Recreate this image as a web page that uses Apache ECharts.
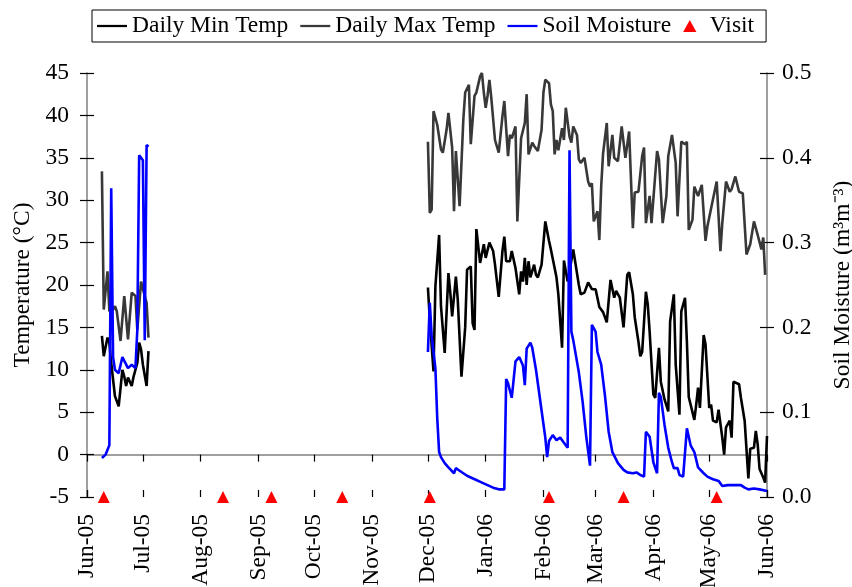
<!DOCTYPE html>
<html>
<head>
<meta charset="utf-8">
<script src="https://cdn.jsdelivr.net/npm/echarts@6.0.0/dist/echarts.min.js"></script>
<style>
html, body { margin: 0; padding: 0; background: #fff; }
#chart { width: 852px; height: 587px; }
</style>
</head>
<body>
<div id="chart"></div>
<script>
// Station record, June 2005 – June 2006: daily air temperature extremes (°C),
// volumetric soil moisture (m3 m-3) and field visit dates.

const minTempDates = [
  '2005-06-09','2005-06-10','2005-06-12','2005-06-13','2005-06-14','2005-06-16','2005-06-17','2005-06-18',
  '2005-06-20','2005-06-21','2005-06-22','2005-06-23','2005-06-25','2005-06-26','2005-06-28','2005-06-29',
  '2005-06-30','2005-07-01','2005-07-02','2005-07-03','2005-07-04',
  '2005-12-01','2005-12-02','2005-12-04','2005-12-05','2005-12-07','2005-12-08','2005-12-10','2005-12-12',
  '2005-12-13','2005-12-14','2005-12-16','2005-12-17','2005-12-19','2005-12-21','2005-12-22','2005-12-24',
  '2005-12-25','2005-12-26','2005-12-27','2005-12-29','2005-12-31','2006-01-01','2006-01-03','2006-01-05',
  '2006-01-06','2006-01-08','2006-01-10','2006-01-11','2006-01-12','2006-01-14','2006-01-15','2006-01-17',
  '2006-01-19','2006-01-20','2006-01-21','2006-01-22','2006-01-23','2006-01-24','2006-01-25','2006-01-27',
  '2006-01-28','2006-01-29','2006-01-31','2006-02-02','2006-02-04','2006-02-05','2006-02-06','2006-02-08',
  '2006-02-09','2006-02-11','2006-02-12','2006-02-14','2006-02-15','2006-02-17','2006-02-18','2006-02-20',
  '2006-02-21','2006-02-23','2006-02-25','2006-02-27','2006-03-01','2006-03-03','2006-03-05','2006-03-07',
  '2006-03-09','2006-03-11','2006-03-12','2006-03-14','2006-03-16','2006-03-18','2006-03-19','2006-03-21',
  '2006-03-22','2006-03-24','2006-03-25','2006-03-26','2006-03-28','2006-03-29','2006-03-30','2006-04-01',
  '2006-04-02','2006-04-04','2006-04-05','2006-04-07','2006-04-08','2006-04-09','2006-04-10','2006-04-12',
  '2006-04-13','2006-04-15','2006-04-16','2006-04-18','2006-04-19','2006-04-20','2006-04-23','2006-04-24',
  '2006-04-25','2006-04-26','2006-04-28','2006-04-29','2006-05-01','2006-05-02','2006-05-03','2006-05-05',
  '2006-05-06','2006-05-08','2006-05-09','2006-05-10','2006-05-12','2006-05-13','2006-05-14','2006-05-17',
  '2006-05-18','2006-05-20','2006-05-22','2006-05-23','2006-05-25','2006-05-26','2006-05-27','2006-05-28',
  '2006-05-30','2006-05-31','2006-06-01'
];
const minTempC = [
  14, 11.6, 13.8, 13.2, 10.8, 6.9, 6.9, 5.7,
  10, 9.2, 8.1, 9.1, 8.1, 9.2, 10.8, 13.2,
  12.4, 10.6, 10.8, 8.1, 12.2,
  19.7, 15.9, 9.8, 19.8, 25.9, 17.5, 12, 21.4,
  19.1, 16.3, 21, 18.3, 9.2, 15, 21.8, 22.2,
  15.5, 14.7, 26.6, 22.6, 24.8, 23.2, 25, 24,
  22.4, 18.6, 24, 25.7, 22.8, 22.8, 24, 22,
  18.9, 21.6, 20.4, 23.2, 20, 22.8, 20.9, 22.4,
  21.2, 20.9, 22.4, 27.5, 25.2, 24.2, 24.2, 20.9,
  18.9, 12.6, 22.9, 20.4, 21.6, 24.2, 22.8, 20,
  18.9, 19.1, 20.3, 19.5, 19.5, 17.4, 16.8, 15.6,
  20.6, 18.5, 19.3, 18.5, 15, 21.2, 21.5, 18.9,
  16.2, 13.3, 11.6, 12.1, 19.2, 17.7, 14.5, 7.1,
  6.7, 12.6, 8.6, 6.5, 6.7, 5.1, 15.7, 18.9,
  10.6, 4.7, 16.9, 18.5, 13.3, 6.8, 4.1, 5.9,
  7.9, 5.5, 14.1, 13, 5.5, 5.9, 4, 3.8,
  5.3, 2, 0, 3.2, 4, 2, 8.6, 8.3,
  6.7, 4, -2.8, 0.7, 0.8, 2.8, 1.2, -1.7,
  -2.7, -3.3, 2.2
];

const maxTempDates = [
  '2005-06-09','2005-06-10','2005-06-12','2005-06-13','2005-06-15','2005-06-16','2005-06-17','2005-06-19',
  '2005-06-21','2005-06-23','2005-06-25','2005-06-27','2005-06-28','2005-06-30','2005-07-02','2005-07-03',
  '2005-07-04',
  '2005-12-01','2005-12-02','2005-12-03','2005-12-04','2005-12-06','2005-12-08','2005-12-09','2005-12-11',
  '2005-12-12','2005-12-14','2005-12-15','2005-12-16','2005-12-18','2005-12-20','2005-12-21','2005-12-23',
  '2005-12-24','2005-12-26','2005-12-27','2005-12-29','2005-12-30','2005-12-31','2006-01-01','2006-01-02',
  '2006-01-03','2006-01-04','2006-01-05','2006-01-06','2006-01-08','2006-01-10','2006-01-11','2006-01-13',
  '2006-01-14','2006-01-15','2006-01-17','2006-01-18','2006-01-20','2006-01-22','2006-01-23','2006-01-24',
  '2006-01-26','2006-01-27','2006-01-29','2006-01-31','2006-02-01','2006-02-02','2006-02-04','2006-02-05',
  '2006-02-06','2006-02-07','2006-02-08','2006-02-09','2006-02-11','2006-02-12','2006-02-13','2006-02-15',
  '2006-02-16','2006-02-17','2006-02-19','2006-02-20','2006-02-21','2006-02-23','2006-02-25','2006-02-26',
  '2006-02-27','2006-02-28','2006-03-02','2006-03-03','2006-03-04','2006-03-05','2006-03-07','2006-03-08',
  '2006-03-10','2006-03-11','2006-03-13','2006-03-15','2006-03-17','2006-03-19','2006-03-21','2006-03-22',
  '2006-03-24','2006-03-26','2006-03-27','2006-03-28','2006-03-30','2006-03-31','2006-04-03','2006-04-04',
  '2006-04-06','2006-04-08','2006-04-09','2006-04-11','2006-04-13','2006-04-14','2006-04-16','2006-04-18',
  '2006-04-19','2006-04-20','2006-04-22','2006-04-23','2006-04-25','2006-04-27','2006-04-29','2006-04-30',
  '2006-05-03','2006-05-05','2006-05-07','2006-05-08','2006-05-10','2006-05-12','2006-05-13','2006-05-15',
  '2006-05-17','2006-05-19','2006-05-21','2006-05-23','2006-05-25','2006-05-27','2006-05-29','2006-05-30',
  '2006-05-31'
];
const maxTempC = [
  33.4, 17.1, 21.6, 16.9, 17.1, 17.5, 16.9, 13.4,
  18.7, 13.6, 19.1, 18.7, 14.7, 20.4, 18.7, 17.9,
  13.8,
  36.9, 28.5, 28.9, 40.5, 38.9, 36, 35.6, 38.3,
  40.3, 36.2, 28.7, 35.8, 29.3, 39.5, 42.7, 43.6,
  36.6, 42.3, 42.7, 44.6, 45, 42.7, 40.9, 42.3,
  44.2, 42.1, 42.1, 37.1, 35.6, 39.9, 41.7, 35.2,
  37.7, 37.3, 38.7, 27.5, 37.3, 39.1, 42.5, 35.4,
  36.8, 36.4, 35.8, 38.3, 42.7, 44.2, 43.8, 41.3,
  40.5, 35.4, 37.1, 35.9, 38.5, 37.1, 40.9, 37.5,
  36.8, 38.7, 37.7, 34.8, 34.4, 35, 32.2, 31.6,
  32, 27.5, 28.7, 25.3, 31.6, 35.5, 39.1, 34,
  37.7, 35, 34.6, 38.7, 35, 38.1, 26.7, 30.9,
  31, 35.2, 36.2, 27.3, 30.5, 27.3, 35.8, 34.8,
  27.3, 30.5, 35.2, 37.7, 34.4, 28.1, 36.9, 36.6,
  36.9, 26.5, 27.7, 31.6, 30.5, 31.8, 25.2, 26.9,
  30.1, 32.2, 24, 27.3, 32.2, 31, 31.3, 32.8,
  31, 30.8, 23.6, 24.8, 27.5, 25.9, 24.2, 25.6,
  21.2
];

const soilDates = [
  '2005-06-09','2005-06-11','2005-06-13','2005-06-14','2005-06-15','2005-06-16','2005-06-18','2005-06-20',
  '2005-06-23','2005-06-25','2005-06-27','2005-06-28','2005-06-29','2005-07-01','2005-07-02','2005-07-03',
  '2005-07-04',
  '2005-12-01','2005-12-02','2005-12-03','2005-12-05','2005-12-06','2005-12-07','2005-12-08','2005-12-10',
  '2005-12-12','2005-12-15','2005-12-16','2005-12-18','2005-12-20','2005-12-22','2005-12-24','2005-12-27',
  '2005-12-30','2006-01-02','2006-01-05','2006-01-08','2006-01-11','2006-01-12','2006-01-13','2006-01-15',
  '2006-01-17','2006-01-19','2006-01-21','2006-01-22','2006-01-23','2006-01-25','2006-01-26','2006-01-28',
  '2006-01-31','2006-02-02','2006-02-03','2006-02-04','2006-02-06','2006-02-08','2006-02-10','2006-02-12',
  '2006-02-14','2006-02-15','2006-02-16','2006-02-17','2006-02-20','2006-02-22','2006-02-24','2006-02-26',
  '2006-02-27','2006-03-01','2006-03-02','2006-03-04','2006-03-06','2006-03-08','2006-03-10','2006-03-13',
  '2006-03-16','2006-03-18','2006-03-21','2006-03-23','2006-03-25','2006-03-27','2006-03-28','2006-03-30',
  '2006-04-01','2006-04-03','2006-04-04','2006-04-05','2006-04-07','2006-04-09','2006-04-11','2006-04-12',
  '2006-04-14','2006-04-15','2006-04-17','2006-04-19','2006-04-21','2006-04-23','2006-04-25','2006-04-28',
  '2006-04-30','2006-05-03','2006-05-06','2006-05-08','2006-05-11','2006-05-14','2006-05-18','2006-05-20',
  '2006-05-22','2006-05-25','2006-05-28','2006-06-01'
];
const soilMoisture = [
  0.046, 0.050, 0.061, 0.364, 0.165, 0.150, 0.146, 0.165,
  0.152, 0.156, 0.152, 0.197, 0.403, 0.397, 0.185, 0.415,
  0.413,
  0.171, 0.229, 0.190, 0.152, 0.093, 0.053, 0.047, 0.040,
  0.035, 0.028, 0.034, 0.031, 0.028, 0.025, 0.023, 0.020,
  0.017, 0.014, 0.011, 0.009, 0.009, 0.139, 0.134, 0.117,
  0.160, 0.165, 0.155, 0.132, 0.175, 0.182, 0.176, 0.150,
  0.102, 0.070, 0.047, 0.066, 0.073, 0.067, 0.070, 0.064,
  0.058, 0.409, 0.195, 0.185, 0.147, 0.113, 0.071, 0.037,
  0.203, 0.195, 0.171, 0.156, 0.120, 0.077, 0.053, 0.040,
  0.032, 0.029, 0.028, 0.029, 0.026, 0.024, 0.077, 0.071,
  0.041, 0.028, 0.123, 0.118, 0.085, 0.058, 0.041, 0.034,
  0.034, 0.026, 0.024, 0.081, 0.061, 0.053, 0.035, 0.028,
  0.024, 0.021, 0.019, 0.013, 0.014, 0.014, 0.014, 0.011,
  0.009, 0.010, 0.009, 0.007
];

const visitDates = [
  '2005-06-10','2005-08-13','2005-09-08','2005-10-16','2005-12-02','2006-02-04','2006-03-16','2006-05-05'
];

const tempTicks = { min: -5, max: 45, step: 5 };
const soilTicks = { min: 0, max: 0.5, step: 0.1 };
const monthNames = ['Jan','Feb','Mar','Apr','May','Jun','Jul','Aug','Sep','Oct','Nov','Dec'];

const FONT = 'Liberation Serif';
const FONT_SIZE = 23.5;
const DAY = 24 * 3600 * 1000;

// Pair dates with values; a long hole in the record (the logger was off
// between July and December) breaks the line instead of bridging it.
function toSeriesData(dates, values) {
  const out = [];
  for (let i = 0; i < dates.length; i++) {
    const t = echarts.time.parse(dates[i]).getTime();
    if (i > 0) {
      const prev = echarts.time.parse(dates[i - 1]).getTime();
      if (t - prev > 20 * DAY) out.push([(t + prev) / 2, '-']);
    }
    out.push([t, values[i]]);
  }
  return out;
}

const chart = echarts.init(document.getElementById('chart'), null, { renderer: 'canvas' });

const axisLineStyle = { color: '#808080', width: 1.5 };
const tickStyle = { color: '#000', width: 1.2 };
const labelStyle = { fontFamily: FONT, fontSize: FONT_SIZE, color: '#000' };

// Legend keys: a short bar for the lines, a small triangle for the visits.
const LINE_KEY = 'path://M0,0H40V3H0Z';
const TRIANGLE_KEY = 'path://M5,0L10,9L0,9Z';

const timeAxisBase = {
  type: 'time',
  min: '2005-06-01',
  max: '2006-06-01',
  minInterval: 28 * DAY,
  maxInterval: 31 * DAY,
  position: 'bottom',
  splitLine: { show: false }
};

const option = {
  backgroundColor: '#fff',
  animation: false,
  textStyle: { fontFamily: FONT },
  grid: { left: 87, right: 85, top: 73, bottom: 90, containLabel: false, outerBoundsMode: 'none' },
  legend: {
    left: 92,
    top: 10,
    orient: 'horizontal',
    borderColor: '#000',
    borderWidth: 1,
    borderRadius: 0,
    padding: [4, 12, 4, 5],
    itemGap: 12,
    itemWidth: 30,
    itemHeight: 12,
    textStyle: { fontFamily: FONT, fontSize: FONT_SIZE, color: '#000' },
    data: [
      { name: 'Daily Min Temp', icon: LINE_KEY, itemStyle: { color: '#000000' } },
      { name: 'Daily Max Temp', icon: LINE_KEY, itemStyle: { color: '#383838' } },
      { name: 'Soil Moisture', icon: LINE_KEY, itemStyle: { color: '#0000ff' } },
      { name: 'Visit', icon: TRIANGLE_KEY, itemStyle: { color: '#ff0000', opacity: 1 } }
    ]
  },
  xAxis: [
    Object.assign({}, timeAxisBase, {
      axisLine: { show: true, lineStyle: axisLineStyle },
      axisTick: { show: true, inside: false, length: 7, lineStyle: tickStyle },
      axisLabel: Object.assign({}, labelStyle, {
        rotate: 90,
        margin: 17,
        hideOverlap: false,
        showMinLabel: true,
        showMaxLabel: true,
        formatter: function (value) {
          const d = new Date(value);
          return monthNames[d.getMonth()] + '-' + String(d.getFullYear()).slice(2);
        }
      })
    }),
    Object.assign({}, timeAxisBase, {
      axisLine: { show: false },
      axisTick: { show: true, inside: true, length: 7, lineStyle: tickStyle },
      axisLabel: { show: false }
    })
  ],
  yAxis: [
    {
      type: 'value',
      position: 'left',
      min: tempTicks.min,
      max: tempTicks.max,
      interval: tempTicks.step,
      name: 'Temperature (°C)',
      nameLocation: 'middle',
      nameRotate: 90,
      nameGap: 46,
      nameTextStyle: { fontFamily: FONT, fontSize: FONT_SIZE, color: '#000' },
      axisLine: { show: true, lineStyle: axisLineStyle },
      axisTick: { show: true, inside: false, length: 7, lineStyle: tickStyle },
      axisLabel: Object.assign({}, labelStyle, { margin: 18 }),
      splitLine: { show: false }
    },
    {
      type: 'value',
      position: 'right',
      min: soilTicks.min,
      max: soilTicks.max,
      interval: soilTicks.step,
      name: 'Soil Moisture (m³m⁻³)',
      nameLocation: 'middle',
      nameRotate: 90,
      nameGap: 64,
      nameTextStyle: { fontFamily: FONT, fontSize: FONT_SIZE, color: '#000' },
      axisLine: { show: true, lineStyle: axisLineStyle },
      axisTick: { show: true, inside: false, length: 7, lineStyle: tickStyle },
      axisLabel: Object.assign({}, labelStyle, {
        margin: 15,
        formatter: function (v) { return v.toFixed(1); }
      }),
      splitLine: { show: false }
    },
    {
      type: 'value',
      position: 'left',
      min: tempTicks.min,
      max: tempTicks.max,
      interval: tempTicks.step,
      axisLine: { show: false },
      axisTick: { show: true, inside: true, length: 7, lineStyle: tickStyle },
      axisLabel: { show: false },
      splitLine: { show: false }
    },
    {
      type: 'value',
      position: 'right',
      min: soilTicks.min,
      max: soilTicks.max,
      interval: soilTicks.step,
      axisLine: { show: false },
      axisTick: { show: true, inside: true, length: 7, lineStyle: tickStyle },
      axisLabel: { show: false },
      splitLine: { show: false }
    }
  ],
  series: [
    {
      name: 'Daily Min Temp',
      type: 'line',
      xAxisIndex: 0,
      yAxisIndex: 0,
      symbol: 'none',
      connectNulls: false,
      lineStyle: { color: '#000000', width: 2.6 },
      itemStyle: { color: '#000000' },
      data: toSeriesData(minTempDates, minTempC),
      z: 2
    },
    {
      name: 'Daily Max Temp',
      type: 'line',
      xAxisIndex: 0,
      yAxisIndex: 0,
      symbol: 'none',
      connectNulls: false,
      lineStyle: { color: '#383838', width: 2.6 },
      itemStyle: { color: '#383838' },
      data: toSeriesData(maxTempDates, maxTempC),
      z: 2
    },
    {
      name: 'Soil Moisture',
      type: 'line',
      xAxisIndex: 0,
      yAxisIndex: 1,
      symbol: 'none',
      connectNulls: false,
      lineStyle: { color: '#0000ff', width: 2.6 },
      itemStyle: { color: '#0000ff' },
      data: toSeriesData(soilDates, soilMoisture),
      z: 3
    },
    {
      name: 'Visit',
      type: 'scatter',
      xAxisIndex: 0,
      yAxisIndex: 0,
      symbol: 'triangle',
      symbolSize: 12,
      clip: false,
      itemStyle: { color: '#ff0000', opacity: 1 },
      data: visitDates.map(function (d) { return [d, tempTicks.min]; }),
      z: 5
    }
  ]
};

chart.setOption(option);
</script>
</body>
</html>
